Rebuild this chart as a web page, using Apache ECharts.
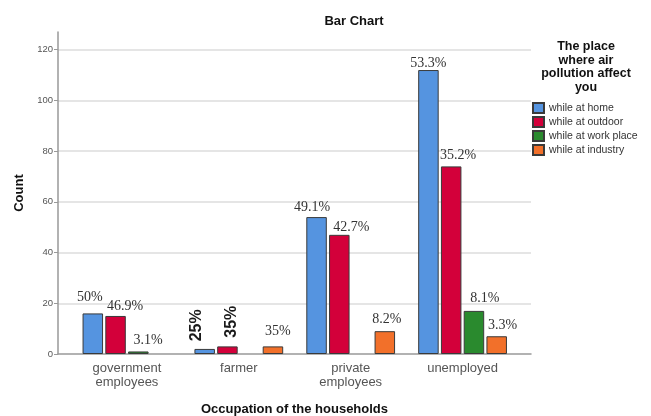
<!DOCTYPE html>
<html>
<head>
<meta charset="utf-8">
<title>Bar Chart</title>
<script src="https://cdn.jsdelivr.net/npm/echarts@6/dist/echarts.min.js"></script>
<style>
  html, body { margin: 0; padding: 0; background: #fff; }
  #chart { width: 651px; height: 416px; }
</style>
</head>
<body>
<div id="chart"></div>
<script>
// Occupation groups on the x axis
const categories = ['government\nemployees', 'farmer', 'private\nemployees', 'unemployed'];
const seriesNames = ['while at home', 'while at outdoor', 'while at work place', 'while at industry'];

// Counts per place (null = no respondents)
const homeCounts = [16, 2, 54, 112];
const outdoorCounts = [15, 3, 47, 74];
const workCounts = [1, null, null, 17];
const industryCounts = [null, 3, 9, 7];

// Percentage annotations above the bars
const homeLabels = ['50%', '25%', '49.1%', '53.3%'];
const outdoorLabels = ['46.9%', '35%', '42.7%', '35.2%'];
const workLabels = ['3.1%', '', '', '8.1%'];
const industryLabels = ['', '35%', '8.2%', '3.3%'];

const yTicks = { min: 0, max: 127, interval: 20 };

// Label placement tweaks (pixel nudges) and which labels are drawn upright
const labelOffsets = [
  [[-3, -9.6], [7.6, -8], [-4.5, -3], [0, 0]],
  [[9.5, -3], [8.7, 4], [12, -1], [7, -3.7]],
  [[9.7, -4], [0, 0], [0, 0], [11, -6]],
  [[0, 0], [5, -7.6], [2, -4.7], [6, -3.7]]
];
const verticalLabels = [
  [false, true, false, false],
  [false, true, false, false],
  [false, false, false, false],
  [false, false, false, false]
];

const colors = ['#5594e0', '#d3003a', '#2a8a2e', '#f2702a'];
const SANS = '"Liberation Sans", Arial, sans-serif';
const SERIF = '"Liberation Serif", "Times New Roman", serif';

const countSets = [homeCounts, outdoorCounts, workCounts, industryCounts];
const labelSets = [homeLabels, outdoorLabels, workLabels, industryLabels];

function buildData(si) {
  return countSets[si].map((v, ci) => {
    const text = labelSets[si][ci];
    if (v == null) return { value: null };
    const item = { value: v };
    if (!text) {
      item.label = { show: false };
    } else if (verticalLabels[si][ci]) {
      item.label = {
        show: true, formatter: text, position: 'top', distance: 0,
        rotate: 90, align: 'left', verticalAlign: 'middle',
        offset: labelOffsets[si][ci],
        fontFamily: SANS, fontWeight: 'bold', fontSize: 16, color: '#1a1a1a'
      };
    } else {
      item.label = {
        show: true, formatter: text, position: 'top', distance: 0,
        offset: labelOffsets[si][ci]
      };
    }
    return item;
  });
}

const series = seriesNames.map((name, si) => ({
  name: name,
  type: 'bar',
  xAxisIndex: 1,
  yAxisIndex: 1,
  barWidth: 20.5,
  barGap: '11%',
  itemStyle: { color: colors[si], borderColor: '#3a3a3a', borderWidth: 1 },
  label: { show: true, fontFamily: SERIF, fontSize: 14, color: '#333' },
  emphasis: { disabled: true },
  data: buildData(si)
}));

const chart = echarts.init(document.getElementById('chart'), null, { renderer: 'canvas' });
chart.setOption({
  animation: false,
  backgroundColor: '#ffffff',
  textStyle: { fontFamily: SANS },
  title: [
    {
      text: 'Bar Chart', left: 354, top: 15, textAlign: 'center', padding: 0,
      textStyle: { fontSize: 13, fontWeight: 'bold', color: '#111', fontFamily: SANS }
    },
    {
      text: 'The place\nwhere air\npollution affect\nyou', left: 586, top: 40, textAlign: 'center', padding: 0,
      textStyle: { fontSize: 12.5, fontWeight: 'bold', color: '#111', lineHeight: 13.5, fontFamily: SANS }
    }
  ],
  legend: {
    data: seriesNames,
    orient: 'vertical',
    left: 532, top: 102,
    padding: 0,
    icon: 'rect',
    itemWidth: 11, itemHeight: 10, itemGap: 2,
    selectedMode: false,
    textStyle: { fontSize: 10.5, color: '#333', fontFamily: SANS }
  },
  grid: [
    { left: 58, right: 120, top: 32, bottom: 62, containLabel: false, outerBoundsMode: 'none' },
    { left: 71, right: 132.5, top: 32, bottom: 62, containLabel: false, outerBoundsMode: 'none' }
  ],
  xAxis: [
    {
      gridIndex: 0, type: 'value', min: 0, max: 1,
      axisLine: { show: true, lineStyle: { color: '#999', width: 1.5 } },
      axisTick: { show: false }, axisLabel: { show: false }, splitLine: { show: false },
      name: 'Occupation of the households', nameLocation: 'middle', nameGap: 49,
      nameTextStyle: { fontSize: 13, fontWeight: 'bold', color: '#111', fontFamily: SANS }
    },
    {
      gridIndex: 1, type: 'category', data: categories,
      axisLine: { show: false }, axisTick: { show: false },
      axisLabel: { fontSize: 13, color: '#555', margin: 7, lineHeight: 14, fontFamily: SANS, interval: 0 }
    }
  ],
  yAxis: [
    {
      gridIndex: 0, type: 'value', min: yTicks.min, max: yTicks.max, interval: yTicks.interval,
      axisLine: { show: true, lineStyle: { color: '#999', width: 1.5 } },
      axisTick: { show: true, length: 4, lineStyle: { color: '#999' } },
      axisLabel: { fontSize: 9.5, color: '#555', margin: 5, showMaxLabel: false, fontFamily: SANS },
      splitLine: { show: true, showMaxLine: false, showMinLine: false, lineStyle: { color: '#dcdcdc', width: 1.5 } },
      name: 'Count', nameLocation: 'middle', nameGap: 28,
      nameTextStyle: { fontSize: 13, fontWeight: 'bold', color: '#111', fontFamily: SANS }
    },
    {
      gridIndex: 1, type: 'value', min: yTicks.min, max: yTicks.max, interval: yTicks.interval,
      show: false, splitLine: { show: false }
    }
  ],
  series: series
});
</script>
</body>
</html>
